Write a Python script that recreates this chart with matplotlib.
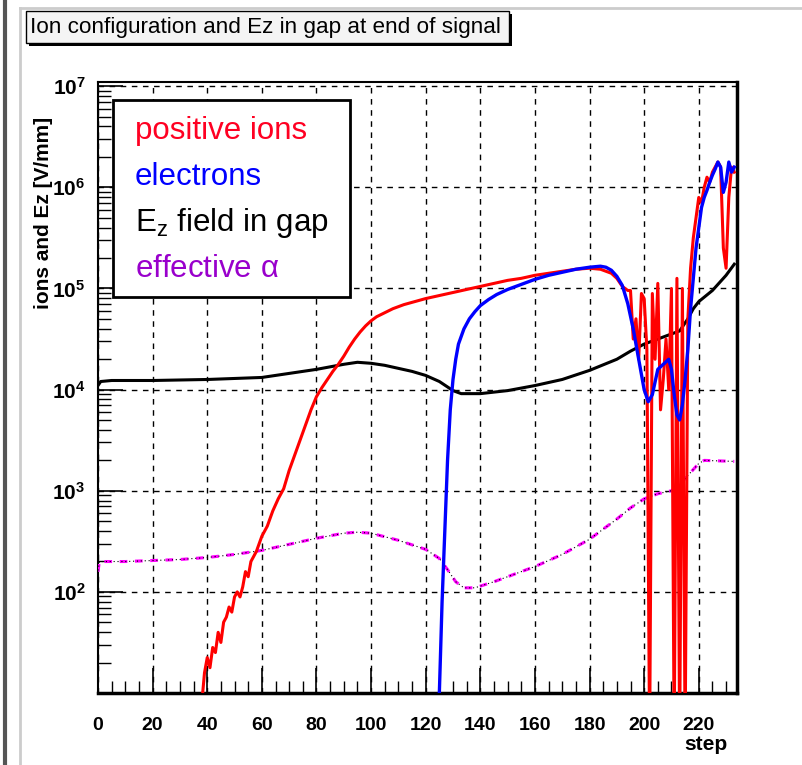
import numpy as np
import matplotlib
matplotlib.use("Agg")
import matplotlib.pyplot as plt
from matplotlib.ticker import MultipleLocator, LogLocator, NullFormatter, FixedLocator
from matplotlib.patches import Rectangle
from matplotlib.lines import Line2D

plt.rcParams['font.family'] = ['Liberation Sans', 'DejaVu Sans']
plt.rcParams['mathtext.fontset'] = 'custom'
plt.rcParams['mathtext.rm'] = 'Liberation Sans'
plt.rcParams['mathtext.bf'] = 'Liberation Sans:bold'
plt.rcParams['mathtext.default'] = 'regular'

# positive ions (step, log10 value)
ion_step = [38, 39, 40, 41, 42, 43, 44, 45, 46, 47, 48, 49, 50, 51, 52, 53, 54, 55,
            56, 57, 58, 60, 62, 64, 66, 68, 70, 72, 74, 76, 78, 80, 82, 84, 86, 88,
            90, 92, 94, 96, 98, 100, 102, 105, 108, 112, 116, 120, 125, 130, 135,
            140, 145, 150, 155, 160, 165, 170, 175, 180, 184, 186, 188, 190, 192,
            194, 195, 196, 197, 198, 199, 200, 201, 202, 203, 204, 205, 206, 207,
            208, 209, 210, 211, 212, 213, 214, 215, 216, 217, 218, 219, 220, 221,
            222, 223, 224, 225, 226, 227, 228, 229, 230, 231, 232, 233]
ion_log = [0.9, 1.2, 1.35, 1.25, 1.45, 1.4, 1.6, 1.5, 1.7, 1.75, 1.85, 1.8, 1.95, 2.0,
           1.95, 2.05, 2.2, 2.15, 2.3, 2.35, 2.4, 2.55, 2.65, 2.8, 2.92, 3.02, 3.2,
           3.35, 3.5, 3.65, 3.8, 3.93, 4.02, 4.1, 4.18, 4.25, 4.33, 4.42, 4.5, 4.57,
           4.63, 4.68, 4.72, 4.76, 4.8, 4.84, 4.87, 4.9, 4.93, 4.96, 4.99, 5.02, 5.05,
           5.08, 5.1, 5.13, 5.15, 5.17, 5.19, 5.2, 5.19, 5.17, 5.15, 5.1, 5.02, 4.98,
           4.98, 4.5, 4.7, 4.3, 4.95, 4.9, 4.4, 0.5, 4.95, 4.3, 5.05, 3.8, 4.1, 4.5,
           4.0, 5.0, 0.5, 5.1, 0.5, 5.0, 0.5, 4.7, 5.2, 5.5, 5.7, 5.9, 5.85, 6.0, 6.1,
           6.05, 6.15, 6.2, 6.25, 6.2, 5.4, 5.2, 5.9, 6.2, 6.15]

# electrons
ele_step = [124.5, 125, 126, 127, 128, 129, 130, 131, 132, 134, 136, 138, 140, 143,
            146, 150, 155, 160, 165, 170, 175, 180, 184, 186, 188, 190, 192, 194, 196,
            198, 200, 201.5, 203, 205, 207, 209, 210, 211, 212, 213, 214, 215, 216,
            217, 218, 219, 220, 221, 222, 223, 224, 225, 226, 227, 228, 229, 230, 231,
            232, 233]
ele_log = [0.5, 1.0, 1.9, 2.6, 3.3, 3.8, 4.1, 4.3, 4.45, 4.6, 4.7, 4.77, 4.83, 4.89,
           4.94, 4.99, 5.04, 5.09, 5.13, 5.16, 5.19, 5.21, 5.22, 5.21, 5.18, 5.12, 5.03,
           4.85, 4.6, 4.3, 4.0, 3.88, 3.95, 4.2, 4.25, 4.3, 4.2, 3.95, 3.75, 3.7, 3.85,
           4.1, 4.4, 4.8, 5.1, 5.4, 5.6, 5.8, 5.9, 5.97, 6.05, 6.12, 6.18, 6.25, 6.2,
           5.95, 6.05, 6.25, 6.15, 6.2]

# Ez field in gap
ez_step = [0, 1, 5, 10, 20, 40, 50, 60, 70, 80, 90, 95, 100, 105, 110, 115, 120, 125,
           130, 133, 140, 150, 160, 170, 180, 190, 195, 200, 205, 210, 213, 216, 218,
           220, 225, 230, 233]
ez_log = [4.04, 4.08, 4.09, 4.09, 4.09, 4.1, 4.11, 4.12, 4.16, 4.2, 4.25, 4.27, 4.26,
          4.24, 4.21, 4.18, 4.14, 4.08, 3.99, 3.96, 3.96, 3.99, 4.04, 4.1, 4.19, 4.3,
          4.38, 4.45, 4.5, 4.55, 4.58, 4.7, 4.8, 4.87, 4.98, 5.13, 5.24]

# effective alpha
alpha_step = [0, 0.5, 10, 20, 30, 40, 50, 60, 70, 80, 90, 95, 100, 110, 120, 125, 128,
              131, 134, 138, 145, 150, 160, 170, 180, 190, 195, 200, 205, 210, 213, 216,
              220, 222, 233]
alpha_log = [2.2, 2.3, 2.3, 2.31, 2.32, 2.34, 2.37, 2.41, 2.47, 2.53, 2.58, 2.59, 2.58,
             2.51, 2.42, 2.33, 2.22, 2.1, 2.04, 2.04, 2.1, 2.15, 2.25, 2.37, 2.52, 2.72,
             2.83, 2.92, 2.97, 3.0, 3.06, 3.15, 3.27, 3.3, 3.29]

x_ticks = [0, 20, 40, 60, 80, 100, 120, 140, 160, 180, 200, 220]
y_ticks = [1e2, 1e3, 1e4, 1e5, 1e6, 1e7]
legend_labels = ['positive ions', 'electrons', r'E$_{z}$ field in gap', r'effective $\alpha$']
legend_colors = ['#ff0022', '#0000ff', '#000000', '#9900cc']

W, H = 802, 765
fig = plt.figure(figsize=(W / 100, H / 100), dpi=100)
fig.patch.set_facecolor('white')

def fx(px):
    return px / W

def fy(py):
    return 1 - py / H

ax = fig.add_axes([fx(98), fy(693), fx(737) - fx(98), fy(82) - fy(693)])
ax.set_yscale('log')
ax.set_xlim(0, 234)
ax.set_ylim(10, 1.1e7)

ax.plot(ez_step, 10 ** np.array(ez_log), color='black', lw=2.2, zorder=3)
ax.plot(alpha_step, 10 ** np.array(alpha_log), color='#ff00ff', lw=2.2,
        ls=(0, (2.5, 2.5)), zorder=3)
ax.plot(alpha_step, 10 ** np.array(alpha_log), color='black', lw=0.8,
        ls=(2.5, (1, 2.5)), zorder=3)
ax.plot(ion_step, 10 ** np.array(ion_log), color='#ff0000', lw=2.2, zorder=4)
ax.plot(ele_step, 10 ** np.array(ele_log), color='#0000ff', lw=2.4, zorder=5)

ax.xaxis.set_major_locator(FixedLocator(x_ticks))
ax.xaxis.set_minor_locator(MultipleLocator(5))
ax.set_xticklabels([str(v) for v in x_ticks], fontsize=14, fontweight='bold')
ax.yaxis.set_major_locator(FixedLocator(y_ticks))
ax.yaxis.set_minor_locator(LogLocator(base=10, subs=np.arange(2, 10)))
ax.yaxis.set_minor_formatter(NullFormatter())
ax.set_yticklabels([r'$\mathbf{10^{%d}}$' % int(np.log10(v)) for v in y_ticks], fontsize=15)

ax.tick_params(which='major', direction='in', length=18, width=1.2)
ax.tick_params(which='minor', direction='in', length=9, width=1.0)
ax.tick_params(axis='x', which='major', pad=17)
ax.tick_params(axis='y', which='major', pad=9)
ax.grid(True, which='major', color='black', lw=1.0, ls=(0, (4, 4)))
for side in ['left', 'top']:
    ax.spines[side].set_linewidth(1.5)
for side in ['right', 'bottom']:
    ax.spines[side].set_linewidth(2.5)

# legend box
fig.patches.append(Rectangle((fx(113), fy(297)), fx(350) - fx(113), fy(100) - fy(297),
                             transform=fig.transFigure, facecolor='white',
                             edgecolor='black', lw=2, zorder=10))
for i, (lab, col) in enumerate(zip(legend_labels, legend_colors)):
    fig.text(fx(135), fy(131 + 46 * i), lab, color=col, fontsize=22.5,
             va='center', ha='left', zorder=11)

# title box with shadow
fig.patches.append(Rectangle((fx(29), fy(46)), fx(512) - fx(29), fy(14) - fy(46),
                             transform=fig.transFigure, facecolor='black',
                             edgecolor='none', zorder=10))
fig.patches.append(Rectangle((fx(26), fy(43)), fx(509) - fx(26), fy(11) - fy(43),
                             transform=fig.transFigure, facecolor='#f4f4f4',
                             edgecolor='black', lw=1, zorder=11))
fig.text(fx(30), fy(28), 'Ion configuration and Ez in gap at end of signal',
         fontsize=16.2, va='center', ha='left', zorder=12)

fig.text(fx(44), fy(117), 'ions and Ez [V/mm]', rotation=90, fontsize=15,
         fontweight='bold', va='top', ha='center')
fig.text(fx(728), fy(745), 'step', fontsize=15, fontweight='bold',
         va='center', ha='right')

# window decorations
fig.lines.append(Line2D([fx(5), fx(5)], [0, 1], color='#555555', lw=3,
                        transform=fig.transFigure))
fig.lines.append(Line2D([fx(20), fx(20)], [0, fy(8)], color='#cccccc', lw=2,
                        transform=fig.transFigure))
fig.lines.append(Line2D([fx(20), 1], [fy(8), fy(8)], color='#cccccc', lw=2,
                        transform=fig.transFigure))

fig.savefig('out.png', dpi=100)
